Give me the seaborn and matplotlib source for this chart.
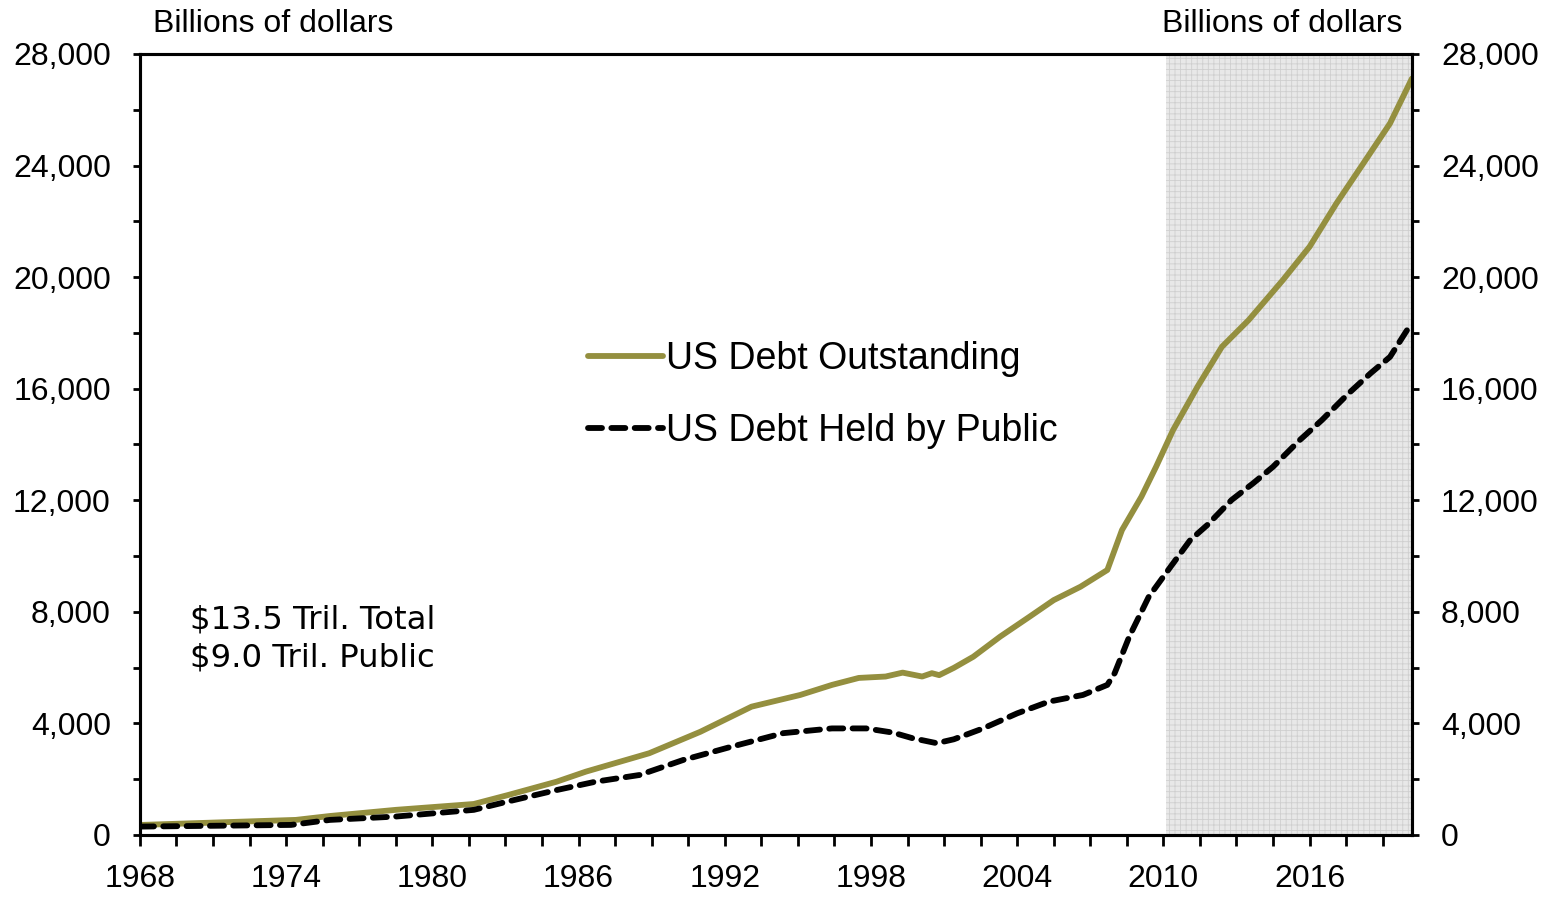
import pandas as pd
import seaborn as sns
import matplotlib.pyplot as plt
from matplotlib.ticker import MultipleLocator, FuncFormatter

# data (year, billions of dollars)
total_year = [1968.0, 1974.4, 1975.8, 1978.5, 1981.7, 1983.1, 1985.1, 1986.3, 1988.9,
              1991.0, 1993.1, 1995.1, 1996.4, 1997.5, 1998.6, 1999.3, 2000.1, 2000.5,
              2000.8, 2001.4, 2002.2, 2003.3, 2004.5, 2005.5, 2006.6, 2007.7, 2008.3,
              2009.1, 2009.7, 2010.4, 2011.4, 2012.4, 2013.5, 2014.9, 2016.0, 2017.1,
              2018.2, 2019.3, 2020.2]
total_debt = [358, 540, 680, 900, 1110, 1430, 1910, 2270, 2930,
              3700, 4600, 5020, 5380, 5630, 5680, 5820, 5680, 5800,
              5730, 5990, 6390, 7110, 7820, 8420, 8900, 9500, 10930,
              12130, 13200, 14520, 16070, 17500, 18460, 19890, 21090, 22640,
              24070, 25510, 27120]

public_year = [1968.0, 1974.2, 1975.8, 1978.5, 1981.7, 1983.1, 1985.1, 1986.7, 1988.5,
               1990.3, 1992.3, 1994.4, 1996.4, 1997.8, 1998.9, 1999.7, 2000.7, 2001.4,
               2002.6, 2004.0, 2005.3, 2006.7, 2007.7, 2008.0, 2008.6, 2009.4, 2010.3,
               2011.1, 2011.8, 2012.8, 2013.7, 2014.5, 2015.6, 2016.5, 2017.6, 2018.5,
               2019.3, 2020.0, 2020.2]
public_debt = [300, 360, 540, 660, 900, 1200, 1610, 1910, 2150,
               2690, 3170, 3650, 3820, 3820, 3670, 3470, 3290, 3430,
               3820, 4360, 4780, 5020, 5380, 5800, 7110, 8540, 9620,
               10570, 11110, 12010, 12620, 13200, 14160, 14870, 15830, 16550,
               17140, 18100, 18200]

shade_start = 2010.1
x_end = 2020.2

total_df = pd.DataFrame({'year': total_year, 'debt': total_debt})
public_df = pd.DataFrame({'year': public_year, 'debt': public_debt})

sns.set_style('ticks')
plt.rcParams['font.family'] = ['Liberation Sans', 'DejaVu Sans']
plt.rcParams['hatch.linewidth'] = 0.6
plt.rcParams['text.color'] = 'black'
plt.rcParams['xtick.color'] = 'black'
plt.rcParams['ytick.color'] = 'black'

fig = plt.figure(figsize=(15.48, 8.98), dpi=100)
ax = fig.add_axes([0.0904, 0.0702, 0.8217, 0.8697])

# shaded projection period
ax.axvspan(shade_start, x_end, facecolor='#e8e8e8', edgecolor='#cfcfcf',
           hatch='+++', lw=0, zorder=0)

sns.lineplot(data=total_df, x='year', y='debt', color='#948F3F', lw=4.2,
             solid_capstyle='round', label='US Debt Outstanding', ax=ax)
sns.lineplot(data=public_df, x='year', y='debt', color='black', lw=4.2,
             linestyle=(0, (2.4, 1.6)), dash_capstyle='round',
             label='US Debt Held by Public', ax=ax)

fmt = FuncFormatter(lambda v, p: f'{v:,.0f}')

ax.set_xlim(1968, x_end)
ax.set_ylim(0, 28000)
ax.xaxis.set_major_locator(MultipleLocator(6))
ax.xaxis.set_minor_locator(MultipleLocator(1.5))
ax.yaxis.set_major_locator(MultipleLocator(4000))
ax.yaxis.set_minor_locator(MultipleLocator(2000))
ax.yaxis.set_major_formatter(fmt)
ax.set_xlabel('')
ax.set_ylabel('')

ax.tick_params(axis='x', which='both', direction='out', length=8, width=2,
               labelsize=23, pad=13, labelcolor='black')
ax.tick_params(axis='y', which='both', direction='out', length=5, width=2,
               labelsize=23, pad=16, labelcolor='black')

ax2 = ax.twinx()
ax2.set_ylim(0, 28000)
ax2.yaxis.set_major_locator(MultipleLocator(4000))
ax2.yaxis.set_minor_locator(MultipleLocator(2000))
ax2.yaxis.set_major_formatter(fmt)
ax2.tick_params(axis='y', which='both', direction='out', length=5, width=2,
                labelsize=23, pad=16, labelcolor='black')

for a in (ax, ax2):
    for s in a.spines.values():
        s.set_visible(True)
        s.set_linewidth(2.2)
        s.set_color('black')

ax.legend(loc='upper left', bbox_to_anchor=(0.352, 0.632), frameon=False,
          fontsize=27, handlelength=2.0, handletextpad=0.1, labelspacing=0.95,
          borderpad=0, borderaxespad=0, labelcolor='black')

ax.text(1970.05, 7025, '$13.5 Tril. Total\n$9.0 Tril. Public', ha='left',
        va='center', fontsize=23.3, family=['DejaVu Sans'], linespacing=1.3)

fig.text(153 / 1548, 1 - 24 / 898, 'Billions of dollars', ha='left', va='center', fontsize=23)
fig.text(1402 / 1548, 1 - 24 / 898, 'Billions of dollars', ha='right', va='center', fontsize=23)

fig.savefig('out.png', dpi=100)
